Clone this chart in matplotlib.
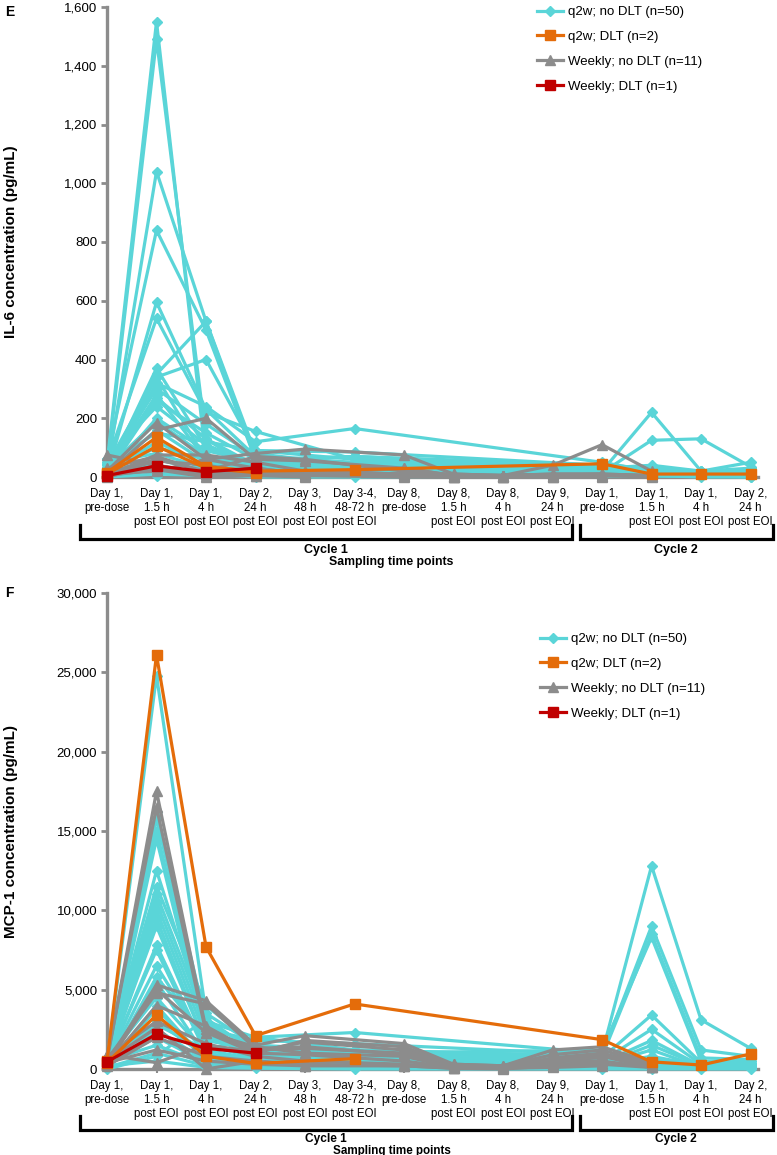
import matplotlib
matplotlib.use('Agg')
import matplotlib.pyplot as plt
from matplotlib.ticker import FuncFormatter

plt.rcParams['font.family'] = ['Liberation Sans', 'DejaVu Sans']

time_labels = ["Day 1,\npre-dose", "Day 1,\n1.5 h\npost EOI", "Day 1,\n4 h\npost EOI",
               "Day 2,\n24 h\npost EOI", "Day 3,\n48 h\npost EOI", "Day 3-4,\n48-72 h\npost EOI",
               "Day 8,\npre-dose", "Day 8,\n1.5 h\npost EOI", "Day 8,\n4 h\npost EOI",
               "Day 9,\n24 h\npost EOI", "Day 1,\npre-dose", "Day 1,\n1.5 h\npost EOI",
               "Day 1,\n4 h\npost EOI", "Day 2,\n24 h\npost EOI"]

# sampling points (index into time_labels) for each schedule
q2w_x = [0, 1, 2, 3, 5, 10, 11, 12, 13]
weekly_x = [0, 1, 2, 3, 4, 6, 7, 8, 9, 10, 11]
N = None

# ---- IL-6 (pg/mL) ----
il6_q2w = [
    [45, 1550, 60, 20, 10, 15, 10, 5, 10],
    [30, 1490, 130, 40, 20, 10, 15, 10, 5],
    [20, 1040, 530, 80, 40, 20, 10, 10, 15],
    [60, 840, 500, 60, 30, 10, 5, 5, 10],
    [10, 595, 230, 70, 50, 30, 40, 20, 30],
    [50, 540, 220, 155, 60, 20, 10, 10, 5],
    [15, 370, 100, 50, 25, 20, 220, 20, 50],
    [25, 350, 530, 60, 30, 15, 125, 130, 35],
    [40, 340, 400, 90, 85, 40, 30, 20, 20],
    [5, 320, 240, 120, 165, 50, 20, 15, 10],
    [35, 300, 180, 70, 40, 25, 10, 10, 5],
    [20, 280, 60, 30, 20, 10, 5, 5, 10],
    [10, 260, 150, 60, 70, 30, 20, 10, 10],
    [60, 240, 110, 40, 30, 20, 10, 5, 5],
    [5, 200, 90, 50, 40, 10, 5, 5, 5],
    [30, 190, 70, 40, 20, 15, 20, 10, 10],
    [15, 160, 50, 30, 20, 10, 5, 5, 5],
    [45, 150, 120, 90, 60, 30, 20, 15, 10],
    [10, 120, 40, 20, 10, 5, 5, 5, 5],
    [20, 100, 60, 35, 25, 10, 10, 5, 5],
    [50, 80, 30, 10, 5, 5, 5, 5, 5],
    [5, 60, 20, 10, 5, 5, 5, 5, 0],
    [25, 40, 15, 5, 5, 5, 5, 5, 5],
    [10, 20, 10, 0, 0, 5, 5, 0, 0],
    [60, 5, 40, 50, 70, 40, 30, 10, 20],
    [0, 10, 5, 5, 5, N, N, N, N],
    [15, 340, 60, 30, N, N, N, N, N],
    [30, 270, 130, 20, 20, 10, 5, 5, 5],
]
il6_q2w_dlt = [
    [15, 135, 35, 20, 25, 45, 10, 10, 10],
    [10, 105, 30, 15, N, N, N, N, N],
]
il6_weekly = [
    [75, 40, 10, 30, 10, 30, 5, 5, 40, 110, 20],
    [20, 185, 60, 80, 95, 75, 10, 5, 10, 10, 5],
    [10, 160, 200, 60, 55, 30, 5, 5, 5, 5, 0],
    [5, 75, 75, 50, 20, 10, 0, 0, 5, 5, N],
    [15, 60, 20, 70, 60, 20, 5, 5, 10, 10, 5],
    [0, 40, 5, 10, 10, 5, 0, 0, 0, 0, N],
    [10, 20, 60, 30, 10, 10, 5, 5, 5, N, N],
    [5, 55, 40, 15, 5, 5, 5, 5, 5, 5, 5],
    [20, 30, 10, 5, 5, 0, 0, 0, 0, N, N],
    [30, 70, 15, 20, 15, 10, 10, 5, 5, 10, N],
    [5, 25, 0, 5, 0, N, N, N, N, N, N],
]
il6_weekly_dlt = [
    [5, 38, 18, 30, N, N, N, N, N, N, N],
]

# ---- MCP-1 (pg/mL) ----
mcp1_q2w = [
    [400, 24800, 3500, 1500, 800, 600, 400, 200, 300],
    [600, 16200, 3000, 2000, 2300, 1000, 12800, 3100, 1300],
    [300, 15800, 2500, 1800, 1600, 900, 9000, 1200, 800],
    [500, 15000, 2000, 1500, 1200, 800, 8500, 700, 600],
    [200, 14500, 1800, 1200, 1000, 1200, 8300, 500, 400],
    [700, 11500, 4000, 1500, 1000, 700, 3400, 400, 500],
    [400, 11000, 3000, 1200, 800, 500, 2500, 300, 300],
    [300, 10500, 2500, 1000, 700, 400, 1800, 200, 200],
    [600, 10000, 2000, 1000, 500, 300, 1200, 100, 150],
    [200, 9500, 1500, 800, 500, 300, 800, 200, 100],
    [500, 9000, 1500, 700, 400, 200, 500, 100, 100],
    [300, 7800, 1200, 600, 300, 200, 400, 100, 100],
    [400, 7500, 1000, 500, 300, 100, N, N, N],
    [100, 5800, 2000, 1000, 500, 300, 200, 100, 100],
    [300, 5500, 800, 500, 200, 400, 300, 200, 200],
    [600, 4500, 1000, 400, 300, 200, 100, 100, 100],
    [200, 3800, 600, 300, 200, N, N, N, N],
    [400, 3000, 800, 400, 300, 200, 100, 100, 100],
    [100, 2500, 500, 300, 200, 100, 100, 50, 50],
    [300, 2000, 400, 200, 100, 100, 50, 50, 50],
    [500, 1500, 300, 200, 100, N, N, N, N],
    [100, 1000, 200, 100, 50, 50, 50, 50, 50],
    [200, 500, 100, 50, 0, 0, 0, 0, 0],
    [0, 800, 3200, 1000, 300, 200, 300, 200, 100],
    [300, 6500, 1500, 800, 400, 500, 600, 300, 200],
    [200, 4000, 500, 300, 200, 300, 1500, 200, 300],
    [600, 12500, 2800, 1400, 700, 400, 300, 200, 200],
    [400, 2800, 1200, 2000, 1200, 800, 500, 300, 400],
]
mcp1_q2w_dlt = [
    [500, 26100, 7700, 2100, 4100, 1850, 450, 250, 950],
    [400, 3400, 800, 350, 650, N, N, N, N],
]
mcp1_weekly = [
    [500, 17500, 2500, 1200, 1300, 1000, 300, 200, 900, 1200, 300],
    [700, 16500, 2300, 1000, 1800, 1400, 200, 100, 600, 900, 200],
    [400, 5300, 4300, 1500, 2100, 1600, 300, 200, 1200, 1400, 400],
    [600, 4800, 4100, 1300, 1400, 900, 100, 100, 400, 800, 100],
    [300, 4000, 2700, 1000, 900, 500, 100, 50, 500, 500, 100],
    [800, 3000, 1600, 800, 500, 300, 50, 50, 300, 400, N],
    [500, 2600, 0, 500, 300, 200, 50, 0, 200, 300, 100],
    [200, 2000, 800, 500, 200, 200, 50, 50, 100, 200, N],
    [900, 400, 1500, 1100, 1700, 1200, 200, 100, 700, 1000, 200],
    [300, 5000, 2300, 1400, 1000, 800, 100, 100, 600, 700, N],
    [400, 1200, 500, 300, 200, N, N, N, N, N, N],
]
mcp1_weekly_dlt = [
    [450, 2200, 1300, 1000, N, N, N, N, N, N, N],
]

group_labels = ["q2w; no DLT (n=50)", "q2w; DLT (n=2)", "Weekly; no DLT (n=11)", "Weekly; DLT (n=1)"]

CYAN = '#5ad5d8'
ORANGE = '#e46c0a'
GREY = '#8c8c8c'
RED = '#c00000'


def draw_group(ax, xs, rows, color, marker, ms, lw, z, label):
    for i, row in enumerate(rows):
        px = [x for x, v in zip(xs, row) if v is not None]
        py = [v for v in row if v is not None]
        ax.plot(px, py, color=color, marker=marker, ms=ms, lw=lw, zorder=z,
                clip_on=False, label=label if i == 0 else None)


def setup_panel(ax, ymax, ystep, ylabel, br_y, cyc_y, samp_y, fs):
    ax.set_xlim(0, 13.15)
    ax.set_ylim(0, ymax)
    ax.set_yticks(range(0, ymax + 1, ystep))
    ax.yaxis.set_major_formatter(FuncFormatter(lambda v, p: f"{int(v):,}"))
    ax.set_xticks(range(len(time_labels)))
    ax.set_xticklabels(time_labels, fontsize=8.3, linespacing=1.2)
    for s in ['top', 'right']:
        ax.spines[s].set_visible(False)
    for s in ['left', 'bottom']:
        ax.spines[s].set_color(GREY)
        ax.spines[s].set_linewidth(2.4)
        ax.spines[s].set_zorder(0.5)
    ax.tick_params(axis='y', colors=GREY, length=4, width=2, labelsize=9.5, labelcolor='black', pad=3)
    ax.tick_params(axis='x', colors=GREY, length=3, width=1.5, labelcolor='black', pad=5)
    ax.set_ylabel(ylabel, fontsize=11, fontweight='bold')
    ax.yaxis.set_label_coords(-0.136, 0.5)

    # cycle brackets under the tick labels
    tr = ax.get_xaxis_transform()
    for x0, x1 in [(-0.55, 9.4), (9.55, 13.45)]:
        ax.plot([x0, x0, x1, x1], [br_y + 0.029, br_y, br_y, br_y + 0.029], color='black',
                lw=2.3, transform=tr, clip_on=False, solid_joinstyle='miter')
    ax.text(4.43, cyc_y, "Cycle 1", transform=tr, ha='center', va='center',
            fontsize=fs, fontweight='bold')
    ax.text(11.5, cyc_y, "Cycle 2", transform=tr, ha='center', va='center',
            fontsize=fs, fontweight='bold')
    ax.text(5.75, samp_y, "Sampling time points", transform=tr, ha='center', va='center',
            fontsize=fs - 0.2, fontweight='bold')


fig = plt.figure(figsize=(7.77, 11.55), dpi=100)
axE = fig.add_axes([107 / 777, 1 - 477 / 1155, 651 / 777, 470 / 1155])
axF = fig.add_axes([107 / 777, 1 - 1069 / 1155, 651 / 777, 476 / 1155])

panels = [
    (axE, il6_q2w, il6_q2w_dlt, il6_weekly, il6_weekly_dlt, 1600, 200,
     "IL-6 concentration (pg/mL)", -0.132, -0.155, -0.18, 9),
    (axF, mcp1_q2w, mcp1_q2w_dlt, mcp1_weekly, mcp1_weekly_dlt, 30000, 5000,
     "MCP-1 concentration (pg/mL)", -0.128, -0.148, -0.172, 8.6),
]

for ax, q2w, q2w_dlt, wk, wk_dlt, ymax, ystep, ylab, by, cy, sy, fs in panels:
    draw_group(ax, q2w_x, q2w, CYAN, 'D', 5.5, 2.3, 2, group_labels[0])
    draw_group(ax, q2w_x, q2w_dlt, ORANGE, 's', 7.5, 2.3, 4, group_labels[1])
    draw_group(ax, weekly_x, wk, GREY, '^', 7.5, 2.3, 3, group_labels[2])
    draw_group(ax, weekly_x, wk_dlt, RED, 's', 7.5, 2.3, 5, group_labels[3])
    setup_panel(ax, ymax, ystep, ylab, by, cy, sy, fs)

legE = axE.legend(loc='upper left', bbox_to_anchor=(537 / 777, 1 - 6 / 1155),
                  bbox_transform=fig.transFigure, frameon=False, fontsize=9.5,
                  borderpad=0, borderaxespad=0, handlelength=2.0, handletextpad=0.35,
                  labelspacing=0.95, numpoints=1)
legF = axF.legend(loc='upper left', bbox_to_anchor=(540 / 777, 1 - 633 / 1155),
                  bbox_transform=fig.transFigure, frameon=False, fontsize=9.5,
                  borderpad=0, borderaxespad=0, handlelength=2.0, handletextpad=0.35,
                  labelspacing=0.95, numpoints=1)

fig.text(5 / 777, 1 - 12 / 1155, "E", fontsize=10, fontweight='bold', va='center')
fig.text(5 / 777, 1 - 593 / 1155, "F", fontsize=10, fontweight='bold', va='center')

fig.savefig('out.png', dpi=100)
